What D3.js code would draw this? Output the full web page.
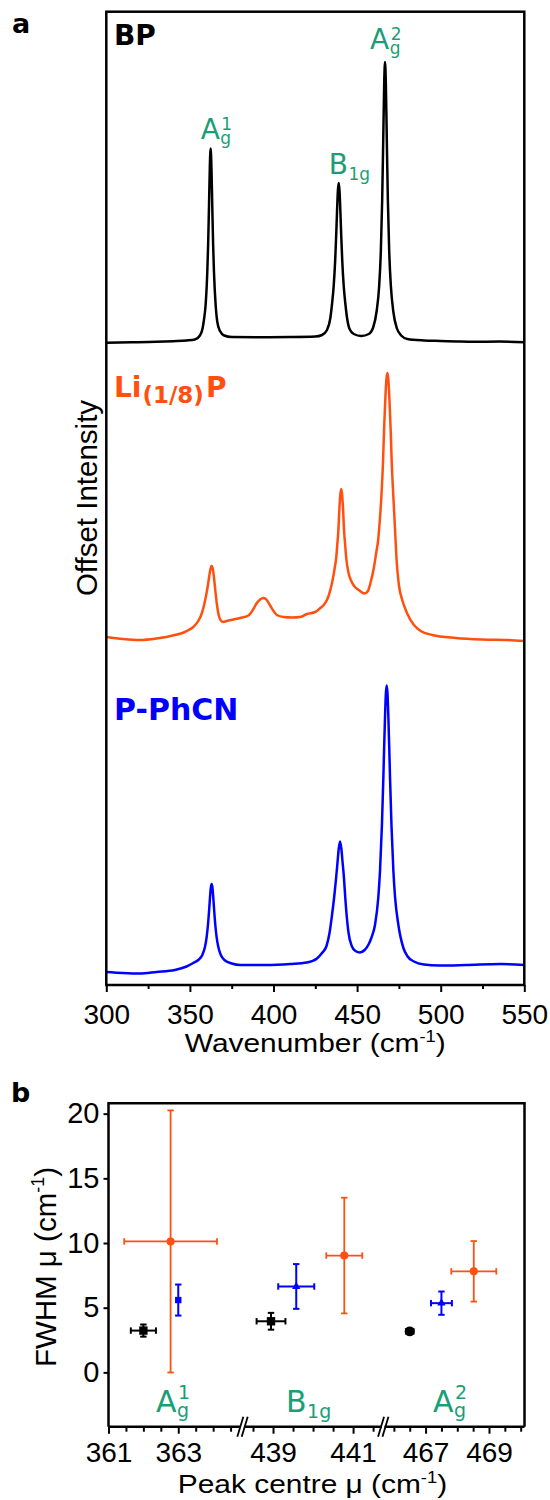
<!DOCTYPE html>
<html>
<head>
<meta charset="utf-8">
<script src="https://cdn.jsdelivr.net/npm/d3@7/dist/d3.min.js"></script>
<style>
  html,body{margin:0;padding:0;background:#fff;}
  svg{display:block;}
</style>
</head>
<body>
<svg id="chart" width="550" height="1500"></svg>
<script>
// ================= DATA =================
// Panel a : Raman spectra, intensity (a.u.) above each trace's own offset
const bpWavenumber = [300,315,330,340,348,353,356,357.5,358.4,359.4,360.4,360.9,361.4,361.9,362.4,362.9,363.4,363.9,364.4,365.4,366.4,368,370.5,375,390,410,425,429,432,434,435,436,436.9,437.5,438,438.5,439,439.5,440,440.5,441.1,442,443,444,445.5,448,452.5,457,459.7,461.7,463.2,464.2,465,465.7,466.2,466.7,467.2,467.7,468.4,469.2,470.2,471.7,473.7,476.7,480,490,500,510,520,535,550];
const bpIntensity  = [2.3,2.7,3.2,3.8,4.5,5.5,9.5,16,25,40,73,100,137,177,196.5,177,137,100,73,40,23,14,9.5,8,7.8,8,8.5,10,15,27,41,59,85,110,133.5,154,162,154,133.5,110,85,59,41,27,16,11,9,11,18,34,59,94,145,212,261,283,261,212,145,94,59,33,17,9,6,4.5,4,3.5,3.2,3.5,2.7];

const liWavenumber = [300,310,320,330,341,347,352,355,357,358.5,359.5,360.5,361.5,362.3,363,363.7,364.5,365.3,366.2,367.2,368.5,370,372,376,380,385,388,390,392,394,396,398,400,402,406,411,416,420,425,428,430,432.5,434.3,435.7,436.7,437.5,438.15,438.7,439.5,440,440.5,441,441.5,442.3,442.85,443.5,444.9,446.5,448.7,451,454.5,456.5,458,460,461.5,462.6,463.5,464.5,465.5,466.1,466.6,467.1,467.6,468.1,468.6,469.1,469.6,470.1,470.7,471.7,472.7,473.7,475,477,479.8,484,488,495,509,525,540,550];
const liIntensity  = [8,6,5,6.5,10,13,18,24,31,40,48,57,68,76,79,76,66,53,40,30,24.5,23,24,25.5,27,29.5,36,42,45.5,47,45,39.5,34,30,28,27.5,28,31,33,37,40,47,57,68,78,87,100.5,112,139,151,156,151,139,112,100.5,87,72,64,58,55,51.5,54,62,77,93,105,123,148,183,214,235,254,267,272,267,254,235,214,183,148,115,83,60,45,32,20,14,10,7,5.5,5,4];

const phWavenumber = [300,310,320,330,341,348,352,355,357.5,359,360,360.8,361.5,362,362.5,363,363.5,364,364.5,365.2,366,367,368.5,371,375,380,396,410,420,426,429,431.7,433.5,435,436.3,437.5,438.3,439,439.8,440.6,441.3,442.1,442.9,443.9,444.8,446.8,449,451.7,454.5,457,458.5,460.7,462.7,463.7,464.85,465.7,466.2,466.7,467.2,467.7,468.2,468.7,469.2,469.7,470.55,471.7,472.7,474.7,477.7,480,484,490,499,515,536,550];
const phIntensity  = [3,2,1.5,3,5,8.5,12,15,20.3,28,37.7,50,65,77,87,91,87,77,65,50,37.7,28,20,14.5,11.5,10,10,11,12.5,16.5,22,29,42,60,78,98,113,126,133.5,126,113,98,78,57,43,29,24,22.5,25,31,37,50,78,104,150,197,229,258,281,289.5,281,258,229,197,150,104,78,50,27,19,13.5,10.5,9.5,10,11,10];

const spectrumOffsets = [640, 340, 10];
const spectrumColors  = ["#000000", "#ff5010", "#0000ff"];
const wavenumberTicks = [300, 350, 400, 450, 500, 550];
const wavenumberMinorTicks = [325, 375, 425, 475, 525];
const modeCentres = [362.4, 439.0, 466.7];

// Panel b : fitted peak centre and FWHM (cm-1) for the three modes
const modes = ["A1g", "B1g", "A2g"];
const bpCentre     = [362.0, 438.95, 466.5];
const bpCentreErr  = [0.36, 0.36, 0.12];
const bpFwhm       = [3.23, 3.95, 3.17];
const bpFwhmErr    = [0.47, 0.65, 0.12];
const phCentre     = [363.0, 439.58, 467.5];
const phCentreErr  = [0.06, 0.45, 0.33];
const phFwhm       = [5.59, 6.64, 5.35];
const phFwhmErr    = [1.2, 1.73, 0.9];
const liCentre     = [362.78, 440.78, 468.52];
const liCentreErr  = [1.33, 0.45, 0.71];
const liFwhm       = [10.12, 9.03, 7.81];
const liFwhmErr    = [10.13, 4.47, 2.34];
const fwhmTicks    = [0, 5, 10, 15, 20];
const segmentDomains = [[361, 364.77], [438.3, 441.71], [465.72, 470.12]];
const segmentTicks = [
  [361, 361.5, 362, 362.5, 363, 363.5, 364, 364.5],
  [438.5, 439, 439.5, 440, 440.5, 441, 441.5],
  [466, 466.5, 467, 467.5, 468, 468.5, 469, 469.5, 470]];
const segmentTickLabels = [[361, 363], [439, 441], [467, 469]];

// ================= DRAWING =================
const svg = d3.select("#chart");
const GREEN = "#1b9e77";
const SANS = "'Liberation Sans', Arial, sans-serif";
const DEJA = "'DejaVu Sans', Verdana, sans-serif";
const STRETCH = 1.15;

// ---------- panel a ----------
const A = {l: 106.3, r: 524.3, t: 11.7, b: 985};
const xA = d3.scaleLinear().domain([300, 550]).range([A.l, A.r]);
const yA = d3.scaleLinear().domain([0, 973.3]).range([A.b, A.t]);

svg.append("clipPath").attr("id", "clipA").append("rect")
  .attr("x", A.l).attr("y", A.t).attr("width", A.r - A.l).attr("height", A.b - A.t);

const spectra = [
  {w: bpWavenumber, v: bpIntensity},
  {w: liWavenumber, v: liIntensity},
  {w: phWavenumber, v: phIntensity}];

const lineGen = d3.line().x(d => xA(d[0])).y(d => yA(d[1])).curve(d3.curveMonotoneX);
spectra.forEach((s, k) => {
  const pts = s.w.map((w, j) => [w, s.v[j] + spectrumOffsets[k]]);
  svg.append("path").attr("clip-path", "url(#clipA)")
    .attr("d", lineGen(pts))
    .attr("fill", "none").attr("stroke", spectrumColors[k])
    .attr("stroke-width", 2.5).attr("stroke-linejoin", "round");
});

// bottom axis
const gxA = svg.append("g").attr("transform", `translate(0,${A.b})`);
gxA.call(d3.axisBottom(xA).tickValues(wavenumberTicks).tickSize(7).tickFormat(d3.format("d")));
gxA.select(".domain").remove();
gxA.selectAll(".tick line").attr("stroke-width", 2);
gxA.selectAll(".tick text").attr("y", 39).attr("dy", 0)
  .attr("font-family", SANS).attr("font-size", 28).attr("fill", "#000");
const gxAm = svg.append("g").attr("transform", `translate(0,${A.b})`);
gxAm.call(d3.axisBottom(xA).tickValues(wavenumberMinorTicks).tickSize(4).tickFormat(""));
gxAm.select(".domain").remove();
gxAm.selectAll(".tick line").attr("stroke-width", 2);

svg.append("rect").attr("x", A.l).attr("y", A.t).attr("width", A.r - A.l).attr("height", A.b - A.t)
  .attr("fill", "none").attr("stroke", "#000").attr("stroke-width", 2.5);

// axis titles panel a
const xt = svg.append("g").attr("transform", `translate(${(A.l + A.r) / 2},1052)`)
  .append("text").attr("transform", `scale(${STRETCH},1)`)
  .attr("text-anchor", "middle").attr("font-family", SANS).attr("font-size", 26);
xt.append("tspan").text("Wavenumber (cm");
xt.append("tspan").attr("font-size", 16).attr("dy", -10).text("-1");
xt.append("tspan").attr("dy", 10).text(")");

svg.append("text").attr("transform", `translate(97,498) rotate(-90)`)
  .attr("text-anchor", "middle").attr("font-family", SANS).attr("font-size", 29.5)
  .text("Offset Intensity");

// panel letters
svg.append("text").attr("x", 12).attr("y", 33).attr("font-family", DEJA).attr("font-weight", "bold")
  .attr("font-size", 27).text("a");
svg.append("text").attr("x", 11).attr("y", 1101.7).attr("font-family", DEJA).attr("font-weight", "bold")
  .attr("font-size", 27).text("b");

// sample labels
svg.append("text").attr("x", 114).attr("y", 45).attr("font-family", DEJA).attr("font-weight", "bold")
  .attr("font-size", 28).attr("fill", spectrumColors[0]).text("BP");
const li = svg.append("text").attr("x", 114).attr("y", 396.7).attr("font-family", DEJA).attr("font-weight", "bold")
  .attr("font-size", 28).attr("fill", spectrumColors[1]);
li.append("tspan").text("Li");
li.append("tspan").attr("font-size", 23).attr("dx", 1).attr("dy", 6).text("(1/8)");
li.append("tspan").attr("dx", 2).attr("dy", -6).text("P");
svg.append("text").attr("x", 114).attr("y", 720).attr("font-family", DEJA).attr("font-weight", "bold")
  .attr("font-size", 30).attr("fill", spectrumColors[2]).text("P-PhCN");

// mode label helper: one text element, stacked super/subscript
function modeLabel(x, y, main, sup, sub, fs, ss, supDy, subDy) {
  const t = svg.append("text").attr("x", x).attr("y", y).attr("font-family", DEJA)
    .attr("font-size", fs).attr("fill", GREEN);
  t.append("tspan").text(main);
  if (sup) {
    t.append("tspan").attr("font-size", ss).attr("dx", 1.5).attr("dy", supDy).text(sup);
    t.append("tspan").attr("font-size", ss).attr("dx", -(0.636 * ss * sup.length) - 1)
      .attr("dy", subDy - supDy).text(sub);
  } else {
    t.append("tspan").attr("font-size", ss).attr("dx", 0.5).attr("dy", subDy).text(sub);
  }
}
function valueAt(ws, vs, w) {
  const i = ws.indexOf(w);
  return i >= 0 ? vs[i] : d3.max(vs);
}
// top labels over BP peaks
const pk = modeCentres.map(c => yA(valueAt(bpWavenumber, bpIntensity, c) + spectrumOffsets[0]));
modeLabel(xA(modeCentres[0]) - 10, pk[0] - 10, "A", "1", "g", 28, 17, -8.5, 5.5);
modeLabel(xA(modeCentres[1]) - 10, pk[1] - 9.5, "B", null, "1g", 28, 17, 0, 6.5);
modeLabel(xA(modeCentres[2]) - 15, pk[2] - 13.5, "A", "2", "g", 28, 17, -8.5, 5.5);

// ---------- panel b ----------
const B = {l: 108.5, r: 524.5, t: 1103.3, b: 1426.7};
const segRanges = [[108.5, 240], [245, 381.5], [385, 524.5]];
const seg = segmentDomains.map((d, i) => d3.scaleLinear().domain(d).range(segRanges[i]));
const yB = d3.scaleLinear().domain([-4.2, 20.8]).range([B.b, B.t]);

// y axis
const gyB = svg.append("g").attr("transform", `translate(${B.l},0)`);
gyB.call(d3.axisLeft(yB).tickValues(fwhmTicks).tickSize(5).tickPadding(4).tickFormat(d3.format("d")));
gyB.select(".domain").remove();
gyB.selectAll(".tick line").attr("stroke-width", 2);
gyB.selectAll(".tick text").attr("font-family", SANS).attr("font-size", 29).attr("fill", "#000");

// x axis segments
seg.forEach((s, i) => {
  const g = svg.append("g").attr("transform", `translate(0,${B.b})`);
  g.call(d3.axisBottom(s).tickValues(segmentTicks[i]).tickSize(5)
    .tickFormat(d => segmentTickLabels[i].includes(d) ? d3.format("d")(d) : ""));
  g.select(".domain").remove();
  g.selectAll(".tick line").attr("stroke-width", 2)
    .attr("y2", d => segmentTickLabels[i].includes(d) ? 7 : 5);
  g.selectAll(".tick text").attr("y", 35).attr("dy", 0)
    .attr("font-family", SANS).attr("font-size", 28).attr("fill", "#000");
});

// frame with broken bottom axis
const frame = svg.append("g").attr("stroke", "#000").attr("stroke-width", 2.5).attr("fill", "none");
frame.append("path").attr("d", `M${B.l},${B.b}V${B.t}H${B.r}V${B.b}`);
const bottomParts = [[B.l, segRanges[0][1] + 0.5], [segRanges[1][0] - 0.5, segRanges[1][1] + 0.5], [segRanges[2][0] - 0.5, B.r]];
bottomParts.forEach(p => frame.append("line").attr("x1", p[0]).attr("x2", p[1]).attr("y1", B.b).attr("y2", B.b));
[(segRanges[0][1] + segRanges[1][0]) / 2, (segRanges[1][1] + segRanges[2][0]) / 2].forEach(cx => {
  [-2.2, 2.2].forEach(o => {
    frame.append("line").attr("x1", cx + o - 3).attr("y1", B.b + 10).attr("x2", cx + o + 3).attr("y2", B.b - 10)
      .attr("stroke-width", 1.8);
  });
});

// axis titles panel b
const xtb = svg.append("g").attr("transform", `translate(${(B.l + B.r) / 2 - 4},1493)`)
  .append("text").attr("transform", `scale(${STRETCH},1)`)
  .attr("text-anchor", "middle").attr("font-family", SANS).attr("font-size", 26);
xtb.append("tspan").text("Peak centre \u03bc (cm");
xtb.append("tspan").attr("font-size", 16).attr("dy", -10).text("-1");
xtb.append("tspan").attr("dy", 10).text(")");

const ytb = svg.append("text").attr("transform", `translate(56,1267) rotate(-90)`)
  .attr("text-anchor", "middle").attr("font-family", SANS).attr("font-size", 29.5);
ytb.append("tspan").text("FWHM \u03bc (cm");
ytb.append("tspan").attr("font-size", 18).attr("dy", -12).text("-1");
ytb.append("tspan").attr("dy", 12).text(")");

// mode labels panel b
modeLabel(156, 1412, "A", "1", "g", 30, 19, -13.5, 5);
modeLabel(286, 1412, "B", null, "1g", 30, 19, 0, 6);
modeLabel(433, 1412, "A", "2", "g", 30, 19, -13.5, 5);

// error bars + markers
const seriesB = [
  {c: liCentre, ce: liCentreErr, f: liFwhm, fe: liFwhmErr, color: "#ff5010",
   shapes: [d3.symbolCircle, d3.symbolCircle, d3.symbolCircle], sizes: [52, 52, 52], sw: 1.8},
  {c: phCentre, ce: phCentreErr, f: phFwhm, fe: phFwhmErr, color: "#0000ff",
   shapes: [d3.symbolSquare, d3.symbolTriangle, d3.symbolTriangle], sizes: [34, 30, 30], sw: 2},
  {c: bpCentre, ce: bpCentreErr, f: bpFwhm, fe: bpFwhmErr, color: "#000000",
   shapes: [d3.symbolSquare, d3.symbolSquare, d3.symbolCircle], sizes: [70, 70, 78], sw: 2}];

seriesB.forEach(S => {
  const g = svg.append("g").attr("stroke", S.color).attr("stroke-width", S.sw).attr("fill", "none");
  modes.forEach((m, i) => {
    const sx = seg[i];
    const cx = sx(S.c[i]), cy = yB(S.f[i]);
    const x0 = sx(S.c[i] - S.ce[i]), x1 = sx(S.c[i] + S.ce[i]);
    const y0 = yB(S.f[i] - S.fe[i]), y1 = yB(S.f[i] + S.fe[i]);
    g.append("line").attr("x1", x0).attr("x2", x1).attr("y1", cy).attr("y2", cy);
    g.append("line").attr("x1", x0).attr("x2", x0).attr("y1", cy - 3.2).attr("y2", cy + 3.2);
    g.append("line").attr("x1", x1).attr("x2", x1).attr("y1", cy - 3.2).attr("y2", cy + 3.2);
    g.append("line").attr("x1", cx).attr("x2", cx).attr("y1", y0).attr("y2", y1);
    g.append("line").attr("x1", cx - 3.2).attr("x2", cx + 3.2).attr("y1", y0).attr("y2", y0);
    g.append("line").attr("x1", cx - 3.2).attr("x2", cx + 3.2).attr("y1", y1).attr("y2", y1);
    svg.append("path").attr("d", d3.symbol().type(S.shapes[i]).size(S.sizes[i])())
      .attr("transform", `translate(${cx},${cy})`).attr("fill", S.color);
  });
});
</script>
</body>
</html>
